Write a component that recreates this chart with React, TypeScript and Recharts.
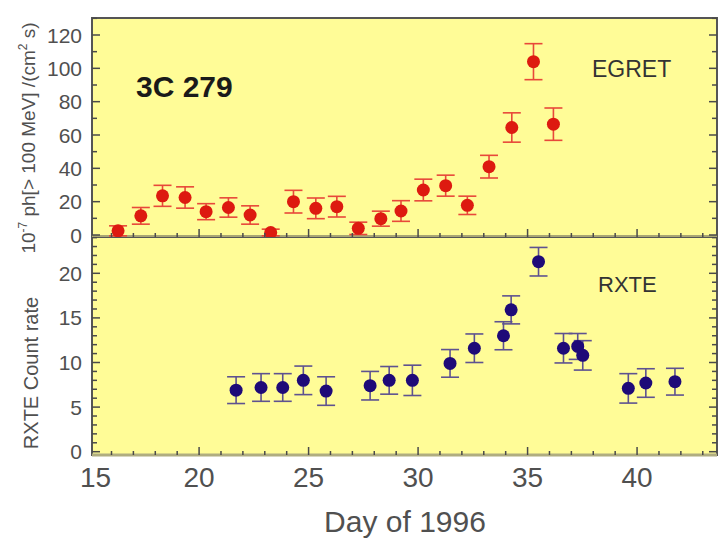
import React from 'react';
import { ScatterChart, Scatter, XAxis, YAxis, ErrorBar, ReferenceArea, ReferenceLine } from 'recharts';

// ---- data ----
const egretDay = [16.3, 17.34, 18.33, 19.36, 20.32, 21.34, 22.33, 23.27, 24.31, 25.33, 26.29, 27.27, 28.3, 29.22, 30.24, 31.26, 32.25, 33.24, 34.28, 35.27, 36.18];
const egretFlux = [2.5, 11.5, 23.5, 22.5, 14, 16.5, 12, 1.5, 20, 16, 17, 4, 9.8, 14.4, 27, 29.6, 17.8, 41, 64.5, 104, 66.5];
const egretErr = [3, 5, 6.3, 6.4, 4.8, 5.8, 5.5, 2, 6.8, 6.2, 6.2, 3.7, 4.5, 6.2, 6.5, 6.3, 5.5, 6.8, 8.8, 10.8, 9.7];

const rxteDay = [21.69, 22.83, 23.82, 24.76, 25.8, 27.81, 28.68, 29.74, 31.46, 32.57, 33.9, 34.25, 35.5, 36.64, 37.29, 37.52, 39.6, 40.4, 41.73];
const rxteRate = [6.9, 7.2, 7.2, 8.0, 6.8, 7.4, 8.0, 8.0, 9.9, 11.6, 13.0, 15.9, 21.3, 11.6, 11.8, 10.8, 7.1, 7.7, 7.85];
const rxteErr = [1.5, 1.55, 1.55, 1.6, 1.6, 1.6, 1.55, 1.7, 1.55, 1.6, 1.57, 1.57, 1.6, 1.65, 1.45, 1.65, 1.65, 1.6, 1.5];

const dayTicks = [15, 16, 17, 18, 19, 20, 21, 22, 23, 24, 25, 26, 27, 28, 29, 30, 31, 32, 33, 34, 35, 36, 37, 38, 39, 40, 41, 42, 43];
const dayLabels = [15, 20, 25, 30, 35, 40];
const egretTicks = [0, 10, 20, 30, 40, 50, 60, 70, 80, 90, 100, 110, 120, 130];
const egretLabels = [0, 20, 40, 60, 80, 100, 120];
const rxteTicks = [0, 1, 2, 3, 4, 5, 6, 7, 8, 9, 10, 11, 12, 13, 14, 15, 16, 17, 18, 19, 20, 21, 22, 23, 24];
const rxteLabels = [0, 5, 10, 15, 20];

const X_DOMAIN: [number, number] = [15.11, 43.65];
const EGRET_DOMAIN: [number, number] = [-1.2, 130.2];
const RXTE_DOMAIN: [number, number] = [-0.37, 24.07];

const egretData = egretDay.map((d, i) => ({ day: d, v: egretFlux[i], err: egretErr[i] }));
const rxteData = rxteDay.map((d, i) => ({ day: d, v: rxteRate[i], err: rxteErr[i] }));

// ---- styles ----
const FONT = '"Liberation Sans", Arial, sans-serif';
const BG = '#FFFC97';
const FRAME = '#555555';
const TICK = '#4a4a4a';
const LABEL = '#505050';

const inX = (v: number) => v >= X_DOMAIN[0] && v <= X_DOMAIN[1];

const makeBottomTick = (labels: number[] | null) => (p: any) => {
  const v = p.payload.value;
  const major = v % 5 === 0;
  return (
    <g>
      {inX(v) && <line x1={p.x} x2={p.x} y1={p.y} y2={p.y - (major ? 8 : 4)} stroke={TICK} strokeWidth={1.5} />}
      {labels && labels.includes(v) && (
        <text x={p.x + (v === 15 ? 6 : 0)} y={p.y + 32} textAnchor="middle" fontSize={28} fill={LABEL} fontFamily={FONT}>{v}</text>
      )}
    </g>
  );
};

const TopTick = (p: any) => {
  const v = p.payload.value;
  const major = v % 5 === 0;
  if (!inX(v)) return <g />;
  return <line x1={p.x} x2={p.x} y1={p.y} y2={p.y + (major ? 8 : 4)} stroke={TICK} strokeWidth={1.5} />;
};

const makeLeftTick = (majorStep: number, labels: number[]) => (p: any) => {
  const v = p.payload.value;
  const major = v % majorStep === 0;
  return (
    <g>
      <line x1={p.x} x2={p.x + (major ? 8 : 5)} y1={p.y} y2={p.y} stroke={TICK} strokeWidth={1.5} />
      {labels.includes(v) && (
        <text x={p.x - 10} y={p.y} dy="0.36em" textAnchor="end" fontSize={21} fill={LABEL} fontFamily={FONT}>{v}</text>
      )}
    </g>
  );
};

const makeRightTick = (majorStep: number) => (p: any) => {
  const v = p.payload.value;
  const major = v % majorStep === 0;
  return <line x1={p.x} x2={p.x - (major ? 8 : 5)} y1={p.y} y2={p.y} stroke={TICK} strokeWidth={1.5} />;
};

const redDot = (p: any) => <circle cx={p.cx} cy={p.cy} r={6.5} fill="#DD1A10" />;
const blueDot = (p: any) => <circle cx={p.cx} cy={p.cy} r={6.5} fill="#1E0A78" />;

export default function App() {
  return (
    <div style={{ position: 'absolute', left: 0, top: 0, width: 721, height: 540, background: '#fff', overflow: 'hidden' }}>
      <div style={{ position: 'absolute', left: 0, top: 0 }}>
        <ScatterChart width={721} height={252} margin={{ top: 18, right: 3, bottom: 0, left: 0 }}>
          <XAxis xAxisId="b" dataKey="day" type="number" domain={X_DOMAIN} ticks={dayTicks} interval={0} allowDataOverflow height={15} tickSize={0} tickMargin={0} axisLine={false} tickLine={false} tick={makeBottomTick(null)} />
          <XAxis xAxisId="t" orientation="top" type="number" domain={X_DOMAIN} ticks={dayTicks} interval={0} allowDataOverflow height={0} tickSize={0} tickMargin={0} axisLine={false} tickLine={false} tick={TopTick} />
          <YAxis yAxisId="l" dataKey="v" type="number" domain={EGRET_DOMAIN} ticks={egretTicks} interval={0} allowDataOverflow width={92} tickSize={0} tickMargin={0} axisLine={false} tickLine={false} tick={makeLeftTick(20, egretLabels)} />
          <YAxis yAxisId="r" orientation="right" type="number" domain={EGRET_DOMAIN} ticks={egretTicks} interval={0} allowDataOverflow width={1} tickSize={0} tickMargin={0} axisLine={false} tickLine={false} tick={makeRightTick(20)} />
          <ReferenceArea xAxisId="b" yAxisId="l" x1={X_DOMAIN[0]} x2={X_DOMAIN[1]} y1={EGRET_DOMAIN[0]} y2={EGRET_DOMAIN[1]} fill={BG} fillOpacity={1} stroke={FRAME} strokeWidth={2} ifOverflow="visible" />
          <ReferenceLine xAxisId="b" yAxisId="l" y={EGRET_DOMAIN[0]} stroke="#a9a674" strokeWidth={4} ifOverflow="visible" />
          <Scatter xAxisId="b" yAxisId="l" data={egretData} dataKey="v" shape={redDot} isAnimationActive={false}>
            <ErrorBar dataKey="err" direction="y" width={9} stroke="#E8483A" strokeWidth={1.6} />
          </Scatter>
        </ScatterChart>
      </div>
      <div style={{ position: 'absolute', left: 0, top: 237 }}>
        <ScatterChart width={721} height={303} margin={{ top: 0, right: 3, bottom: 0, left: 0 }}>
          <XAxis xAxisId="b" dataKey="day" type="number" domain={X_DOMAIN} ticks={dayTicks} interval={0} allowDataOverflow height={85} tickSize={0} tickMargin={0} axisLine={false} tickLine={false} tick={makeBottomTick(dayLabels)} />
          <XAxis xAxisId="t" orientation="top" type="number" domain={X_DOMAIN} ticks={dayTicks} interval={0} allowDataOverflow height={0} tickSize={0} tickMargin={0} axisLine={false} tickLine={false} tick={TopTick} />
          <YAxis yAxisId="l" dataKey="v" type="number" domain={RXTE_DOMAIN} ticks={rxteTicks} interval={0} allowDataOverflow width={92} tickSize={0} tickMargin={0} axisLine={false} tickLine={false} tick={makeLeftTick(5, rxteLabels)} />
          <YAxis yAxisId="r" orientation="right" type="number" domain={RXTE_DOMAIN} ticks={rxteTicks} interval={0} allowDataOverflow width={1} tickSize={0} tickMargin={0} axisLine={false} tickLine={false} tick={makeRightTick(5)} />
          <ReferenceArea xAxisId="b" yAxisId="l" x1={X_DOMAIN[0]} x2={X_DOMAIN[1]} y1={RXTE_DOMAIN[0]} y2={RXTE_DOMAIN[1]} fill={BG} fillOpacity={1} stroke={FRAME} strokeWidth={2} ifOverflow="visible" />
          <ReferenceLine xAxisId="b" yAxisId="l" y={RXTE_DOMAIN[0]} stroke="#b0ad80" strokeWidth={3} ifOverflow="visible" />
          <Scatter xAxisId="b" yAxisId="l" data={rxteData} dataKey="v" shape={blueDot} isAnimationActive={false}>
            <ErrorBar dataKey="err" direction="y" width={9} stroke="#5E5290" strokeWidth={1.6} />
          </Scatter>
        </ScatterChart>
      </div>
      <svg width={721} height={540} style={{ position: 'absolute', left: 0, top: 0, pointerEvents: 'none' }}>
        <text x={136} y={97} fontSize={30} fontWeight="bold" fill="#1a1a1a" fontFamily={FONT}>3C 279</text>
        <text x={592} y={77} fontSize={23} fill="#333" fontFamily={FONT}>EGRET</text>
        <text x={598} y={292} fontSize={22} fill="#333" fontFamily={FONT}>RXTE</text>
        <text x={405} y={532} fontSize={30} textAnchor="middle" fill={LABEL} fontFamily={FONT}>Day of 1996</text>
        <text transform="translate(35,138) rotate(-90)" fontSize={19} textAnchor="middle" fill={LABEL} fontFamily={FONT}>
          10<tspan fontSize={12} dy={-8}>-7</tspan><tspan dy={8}> ph[&gt; 100 MeV] /(cm</tspan><tspan fontSize={12} dy={-8}>2</tspan><tspan dy={8}> s)</tspan>
        </text>
        <text transform="translate(38,373) rotate(-90)" fontSize={20} textAnchor="middle" fill={LABEL} fontFamily={FONT}>RXTE Count rate</text>
      </svg>
    </div>
  );
}
